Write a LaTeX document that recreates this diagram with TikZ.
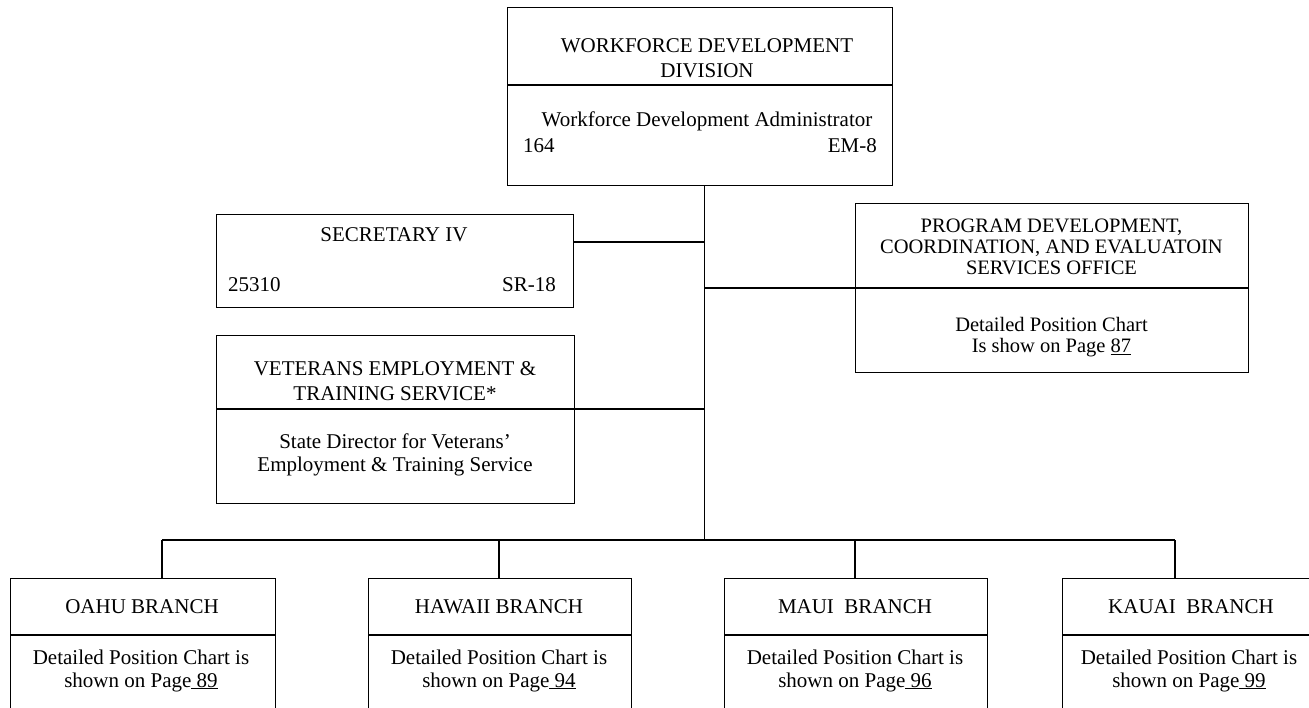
\documentclass[tikz,border=0pt]{standalone}
\usepackage{fontspec}
\setmainfont{Liberation Serif}
\begin{document}
\begin{tikzpicture}[x=1pt,y=-1pt,
  box/.style={draw, line width=1.1pt, inner sep=0pt, anchor=north west},
  txt/.style={font=\fontsize{21}{23}\selectfont, align=center, inner sep=0pt},
  wide/.style={font=\fontsize{21}{24.5}\selectfont},
  tight/.style={font=\fontsize{20.5}{21}\selectfont},
  link/.style={line width=1.1pt}]
\useasboundingbox (0,0) rectangle (1309,707);
\clip (0,0) rectangle (1309,707);
\fill[white] (0,0) rectangle (1309,707);

% top box
\node[box, minimum width=385pt, minimum height=178pt] (wdd) at (507,7) {};
\draw[link] ([yshift=-78pt]wdd.north west) -- ([yshift=-78pt]wdd.north east);
\node[txt, wide] (wddt) at (707,58) {WORKFORCE DEVELOPMENT\\DIVISION};
\node[txt] (wdda) at (707,121) {Workforce Development Administrator};
\node[txt, anchor=west] (wddn) at (523,146) {164};
\node[txt, anchor=east] (wddg) at (877,146) {EM-8};

% secretary
\node[box, minimum width=357pt, minimum height=93pt] (sec) at (216,214) {};
\node[txt] (sect) at (394,235) {SECRETARY IV};
\node[txt, anchor=west] (secn) at (228,285) {25310};
\node[txt, anchor=east] (secg) at (556,285) {SR-18};

% PDCE
\node[box, minimum width=393pt, minimum height=169pt] (pdce) at (855,203) {};
\draw[link] ([yshift=-85pt]pdce.north west) -- ([yshift=-85pt]pdce.north east);
\node[txt, tight] (pdcet) at (1051.5,247) {PROGRAM DEVELOPMENT,\\COORDINATION, AND EVALUATOIN\\SERVICES OFFICE};
\node[txt, tight] (pdceb) at (1051.5,337) {Detailed Position Chart\\Is show on Page \underline{87}};

% VETS
\node[box, minimum width=358pt, minimum height=168pt] (vets) at (216,335) {};
\draw[link] ([yshift=-74pt]vets.north west) -- ([yshift=-74pt]vets.north east);
\node[txt, wide] (vetst) at (395,381) {VETERANS EMPLOYMENT \&\\TRAINING SERVICE*};
\node[txt] (vetsb) at (395,455) {State Director for Veterans'\\Employment \& Training Service};

% branches
\node[box, minimum width=265pt, minimum height=150pt] (oahu) at (10,578) {};
\node[box, minimum width=263pt, minimum height=150pt] (hawaii) at (368,578) {};
\node[box, minimum width=263pt, minimum height=150pt] (maui) at (724,578) {};
\node[box, minimum width=258pt, minimum height=150pt] (kauai) at (1062,578) {};
\foreach \b in {oahu,hawaii,maui,kauai}
  \draw[link] ([yshift=-57pt]\b.north west) -- ([yshift=-57pt]\b.north east);
\node[txt] (oahut) at (142,607) {OAHU BRANCH};
\node[txt] (oahub) at (141,670.5) {Detailed Position Chart is\\shown on Page\underline{\ 89}};
\node[txt] (hawaiit) at (499,607) {HAWAII BRANCH};
\node[txt] (hawaiib) at (499,670.5) {Detailed Position Chart is\\shown on Page\underline{\ 94}};
\node[txt] (mauit) at (855,607) {MAUI\ \ BRANCH};
\node[txt] (mauib) at (855,670.5) {Detailed Position Chart is\\shown on Page\underline{\ 96}};
\node[txt] (kauait) at (1191,607) {KAUAI\ \ BRANCH};
\node[txt] (kauaib) at (1189,670.5) {Detailed Position Chart is\\shown on Page\underline{\ 99}};

% connectors
\coordinate (t0) at (704.5,185);
\coordinate (bus) at (704.5,540);
\coordinate (secj) at (573,242);
\coordinate (pdcej) at (855,288);
\coordinate (vetsj) at (574,409);
\coordinate (d1) at (162,540);
\coordinate (d2) at (499,540);
\coordinate (d3) at (855,540);
\coordinate (d4) at (1175,540);
\draw[link] (t0) -- (bus);
\draw[link] (secj) -- (secj -| bus);
\draw[link] (pdcej) -- (pdcej -| bus);
\draw[link] (vetsj) -- (vetsj -| bus);
\draw[link] (d1) -- (d4);
\draw[link] (d1) -- (d1 |- oahu.north);
\draw[link] (d2) -- (d2 |- hawaii.north);
\draw[link] (d3) -- (d3 |- maui.north);
\draw[link] (d4) -- (d4 |- kauai.north);
\end{tikzpicture}
\end{document}
